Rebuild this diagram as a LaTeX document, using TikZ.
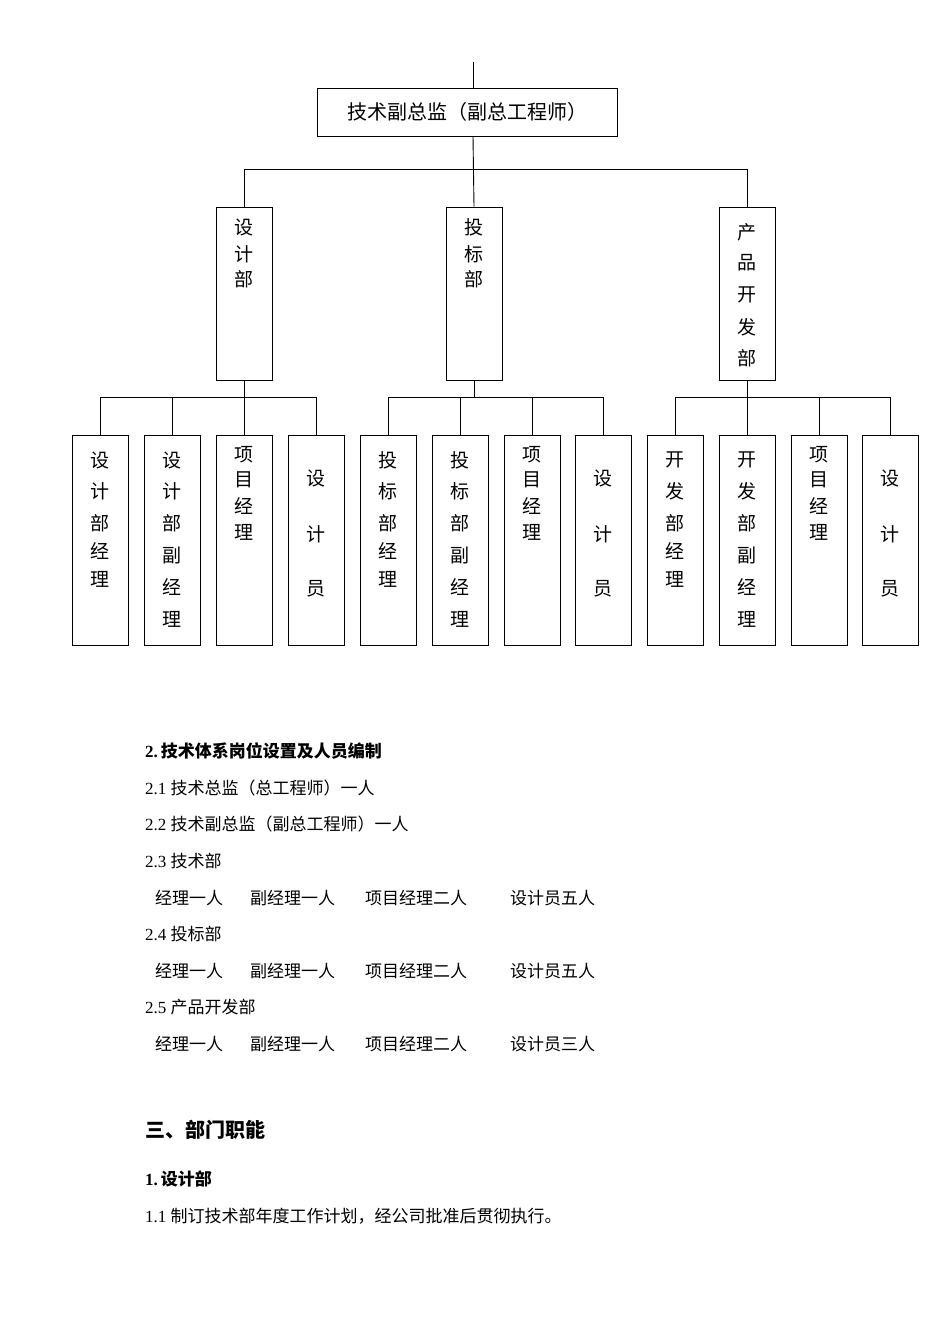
\documentclass[tikz,border=0pt]{standalone}
\usepackage{fontspec}
\setmainfont{Liberation Serif}
\newfontfamily\cjk{Noto Sans CJK SC}
\begin{document}
\begin{tikzpicture}[x=1pt,y=-1pt,
  bx/.style={draw,line width=0.9pt,inner sep=0pt},
  ch/.style={font=\cjk\fontsize{19}{19}\selectfont,inner sep=0pt},
  tx/.style={anchor=west,inner sep=0pt,font=\fontsize{17}{17}\selectfont},
  ln/.style={line width=0.9pt}]
\useasboundingbox (0,0) rectangle (950,1344);
% top
\node[bx,minimum width=300,minimum height=48,font=\cjk\fontsize{20}{20}\selectfont] (top) at (467,112) {技术副总监（副总工程师）};
\coordinate (topin) at (473,62);
\draw[ln] (topin) -- (top.north -| topin);
% departments
\node[bx,minimum width=56,minimum height=173] (d1) at (244,293.5) {};
\node[bx,minimum width=56,minimum height=173] (d2) at (474,293.5) {};
\node[bx,minimum width=56,minimum height=173] (d3) at (747,293.5) {};
\draw[ln] (top.south -| topin) -- (d2.north);
\draw[ln] (d1.north) -- ++(0,-37) -| (d3.north);
\foreach \c/\y in {设/227,计/254,部/279} \node[ch] at (244,\y) {\c};
\foreach \c/\y in {投/227,标/254,部/279} \node[ch] at (474,\y) {\c};
\foreach \c/\y in {产/232,品/263,开/295,发/327,部/358} \node[ch] at (747,\y) {\c};
% bottom boxes
\foreach \i/\x in {1/100,2/172,3/244,4/316,5/388,6/460,7/532,8/603,9/675,10/747,11/819,12/890}
  \node[bx,minimum width=56,minimum height=210] (b\i) at (\x,540) {};
\draw[ln] (b1.north) -- ++(0,-37) -| (b4.north);
\draw[ln] (b2.north) -- ++(0,-37);
\draw[ln] (d1.south) -- (b3.north);
\draw[ln] (b5.north) -- ++(0,-37) -| (b8.north);
\draw[ln] (b6.north) -- ++(0,-37);
\draw[ln] (b7.north) -- ++(0,-37);
\draw[ln] (d2.south) -- ++(0,18);
\draw[ln] (b9.north) -- ++(0,-37) -| (b12.north);
\draw[ln] (b11.north) -- ++(0,-37);
\draw[ln] (d3.south) -- (b10.north);
% texts in bottom boxes
\foreach \x/\a/\b in {100/设/计,388/投/标,675/开/发}{
  \foreach \c/\y in {\a/460,\b/491,部/523,经/551,理/579} \node[ch] at (\x,\y) {\c};}
\foreach \x/\a/\b in {172/设/计,460/投/标,747/开/发}{
  \foreach \c/\y in {\a/460,\b/491,部/523,副/555,经/587,理/619} \node[ch] at (\x,\y) {\c};}
\foreach \x in {244,532,819}{
  \foreach \c/\y in {项/455,目/480,经/506,理/532} \node[ch] at (\x,\y) {\c};}
\foreach \x in {316,603,890}{
  \foreach \c/\y in {设/478,计/534,员/589} \node[ch] at (\x,\y) {\c};}
% text section
\node[tx,font=\bfseries\fontsize{17}{17}\selectfont] (h2) at (145,751) {2.\,{\cjk\bfseries 技术体系岗位设置及人员编制}};
\node[tx] (l21) at (145,788) {2.1 {\cjk 技术总监（总工程师）一人}};
\node[tx] (l22) at (145,824) {2.2 {\cjk 技术副总监（副总工程师）一人}};
\node[tx] (l23) at (145,861) {2.3 {\cjk 技术部}};
\node[tx] (l24) at (145,934) {2.4 {\cjk 投标部}};
\node[tx] (l25) at (145,1007) {2.5 {\cjk 产品开发部}};
\foreach \y/\n in {898/五,971/五,1044/三}{
  \node[tx,font=\cjk\fontsize{17}{17}\selectfont] at (155,\y) {经理一人};
  \node[tx,font=\cjk\fontsize{17}{17}\selectfont] at (250,\y) {副经理一人};
  \node[tx,font=\cjk\fontsize{17}{17}\selectfont] at (365,\y) {项目经理二人};
  \node[tx,font=\cjk\fontsize{17}{17}\selectfont] at (510,\y) {设计员\n 人};}
\node[tx,font=\cjk\bfseries\fontsize{20}{20}\selectfont] (h3) at (145,1130) {三、部门职能};
\node[tx,font=\bfseries\fontsize{17}{17}\selectfont] (h31) at (145,1179) {1.\,{\cjk\bfseries 设计部}};
\node[tx] (l11) at (145,1216) {1.1 {\cjk 制订技术部年度工作计划，经公司批准后贯彻执行。}};
\end{tikzpicture}
\end{document}
